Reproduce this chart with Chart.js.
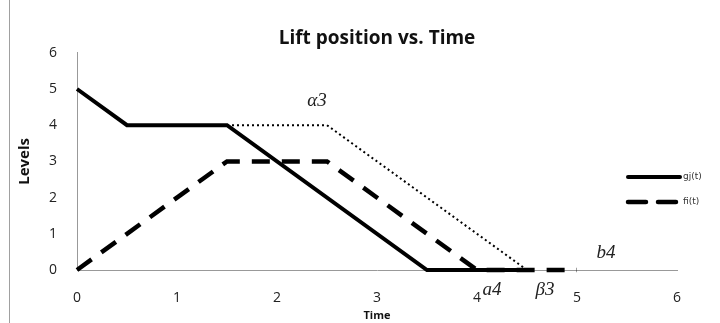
<!DOCTYPE html>
<html>
<head>
<meta charset="utf-8">
<script src="https://cdn.jsdelivr.net/npm/chart.js@4"></script>
<style>
  html, body { margin: 0; padding: 0; background: #fff; }
  #wrap { width: 720px; height: 323px; }
</style>
</head>
<body>
<div id="wrap"><canvas id="liftChart" width="720" height="323"></canvas></div>
<script>
// gj(t) - solid line
const gjTime = [0, 0.5, 1.5, 3.5, 4.5];
const gjLevel = [5, 4, 4, 0, 0];
// fi(t) - dashed line
const fiTime = [0, 1.5, 2.5, 4, 5];
const fiLevel = [0, 3, 3, 0, 0];
// dotted path (not in legend)
const altTime = [1.5, 2.5, 4.5];
const altLevel = [4, 4, 0];

const xTicks = [0, 1, 2, 3, 4, 5, 6];
const yTicks = [0, 1, 2, 3, 4, 5, 6];

// italic labels written on the plot, in data units
const noteText = ['α3', 'a4', 'β3', 'b4'];
const noteTime = [2.4, 4.15, 4.68, 5.29];
const noteLevel = [4.67, -0.55, -0.55, 0.47];

function toPoints(xs, ys) {
  return xs.map((x, i) => ({ x: x, y: ys[i] }));
}

// draws the side line, the legend and the italic notes
const extras = {
  id: 'extras',
  beforeDraw(chart) {
    const ctx = chart.ctx;
    ctx.save();
    ctx.strokeStyle = '#a0a0a0';
    ctx.lineWidth = 1;
    ctx.beginPath();
    ctx.moveTo(9.5, 0);
    ctx.lineTo(9.5, chart.height);
    ctx.stroke();
    ctx.restore();
  },
  afterDraw(chart) {
    const ctx = chart.ctx;
    const xs = chart.scales.x, ys = chart.scales.y;
    ctx.save();
    // legend
    const items = chart.data.datasets.filter(d => d.label);
    items.forEach((d, i) => {
      const y = 177 + i * 25;
      ctx.strokeStyle = d.borderColor;
      ctx.lineWidth = d.borderWidth;
      ctx.setLineDash(d.borderDash || []);
      ctx.lineCap = 'round';
      ctx.beginPath();
      ctx.moveTo(628, y);
      ctx.lineTo(680, y);
      ctx.stroke();
      ctx.setLineDash([]);
      ctx.fillStyle = '#333';
      ctx.font = '9px "DejaVu Sans"';
      ctx.textBaseline = 'middle';
      ctx.textAlign = 'left';
      ctx.fillText(d.label, 683, y);
    });
    // notes
    ctx.font = 'italic 19px "Liberation Serif"';
    ctx.textAlign = 'center';
    ctx.textBaseline = 'middle';
    ctx.fillStyle = '#222';
    noteText.forEach((t, i) => {
      ctx.fillText(t, xs.getPixelForValue(noteTime[i]), ys.getPixelForValue(noteLevel[i]));
    });
    ctx.restore();
  }
};

const chart = new Chart(document.getElementById('liftChart').getContext('2d'), {
  type: 'line',
  data: {
    datasets: [{
      label: 'gj(t)',
      data: toPoints(gjTime, gjLevel),
      borderColor: '#000',
      borderWidth: 4,
      pointRadius: 0,
      clip: false
    }, {
      label: 'fi(t)',
      data: toPoints(fiTime, fiLevel),
      borderColor: '#000',
      borderWidth: 4.5,
      borderDash: [18, 12],
      pointRadius: 0,
      clip: false
    }, {
      label: '',
      data: toPoints(altTime, altLevel),
      borderColor: '#000',
      borderWidth: 2,
      borderDash: [2, 3],
      pointRadius: 0,
      clip: false
    }]
  },
  options: {
    responsive: false,
    animation: false,
    layout: { padding: { left: 0, right: 43, top: 0, bottom: 0 } },
    plugins: {
      legend: { display: false },
      tooltip: { enabled: false },
      title: {
        display: true,
        fullSize: false,
        text: 'Lift position vs. Time',
        color: '#111',
        font: { family: 'Open Sans', size: 19, weight: 'bold', lineHeight: 1.2 },
        padding: { top: 27, bottom: 3 }
      }
    },
    scales: {
      x: {
        type: 'linear',
        min: 0,
        max: 6,
        afterBuildTicks(scale) { scale.ticks = xTicks.map(v => ({ value: v })); },
        afterFit(scale) { scale.height = 53; },
        grid: { display: false, drawTicks: false },
        border: { display: true, color: '#999', width: 1 },
        ticks: { color: '#222', padding: 20, font: { family: 'Open Sans', size: 14 } },
        title: {
          display: true,
          text: 'Time',
          color: '#111',
          font: { family: 'Open Sans', size: 11, weight: 'bold', lineHeight: 1.2 },
          padding: { top: 0, bottom: 1 }
        }
      },
      y: {
        type: 'linear',
        min: 0,
        max: 6,
        afterBuildTicks(scale) { scale.ticks = yTicks.map(v => ({ value: v })); },
        afterFit(scale) { scale.width = 77; },
        grid: { display: false, drawTicks: false },
        border: { display: true, color: '#999', width: 1 },
        ticks: { color: '#222', padding: 20, font: { family: 'Open Sans', size: 14 } },
        title: {
          display: true,
          text: 'Levels',
          color: '#111',
          font: { family: 'Open Sans', size: 15, weight: 'bold', lineHeight: 1.2 },
          padding: { top: 16, bottom: 0 }
        }
      }
    }
  },
  plugins: [extras]
});
</script>
</body>
</html>
